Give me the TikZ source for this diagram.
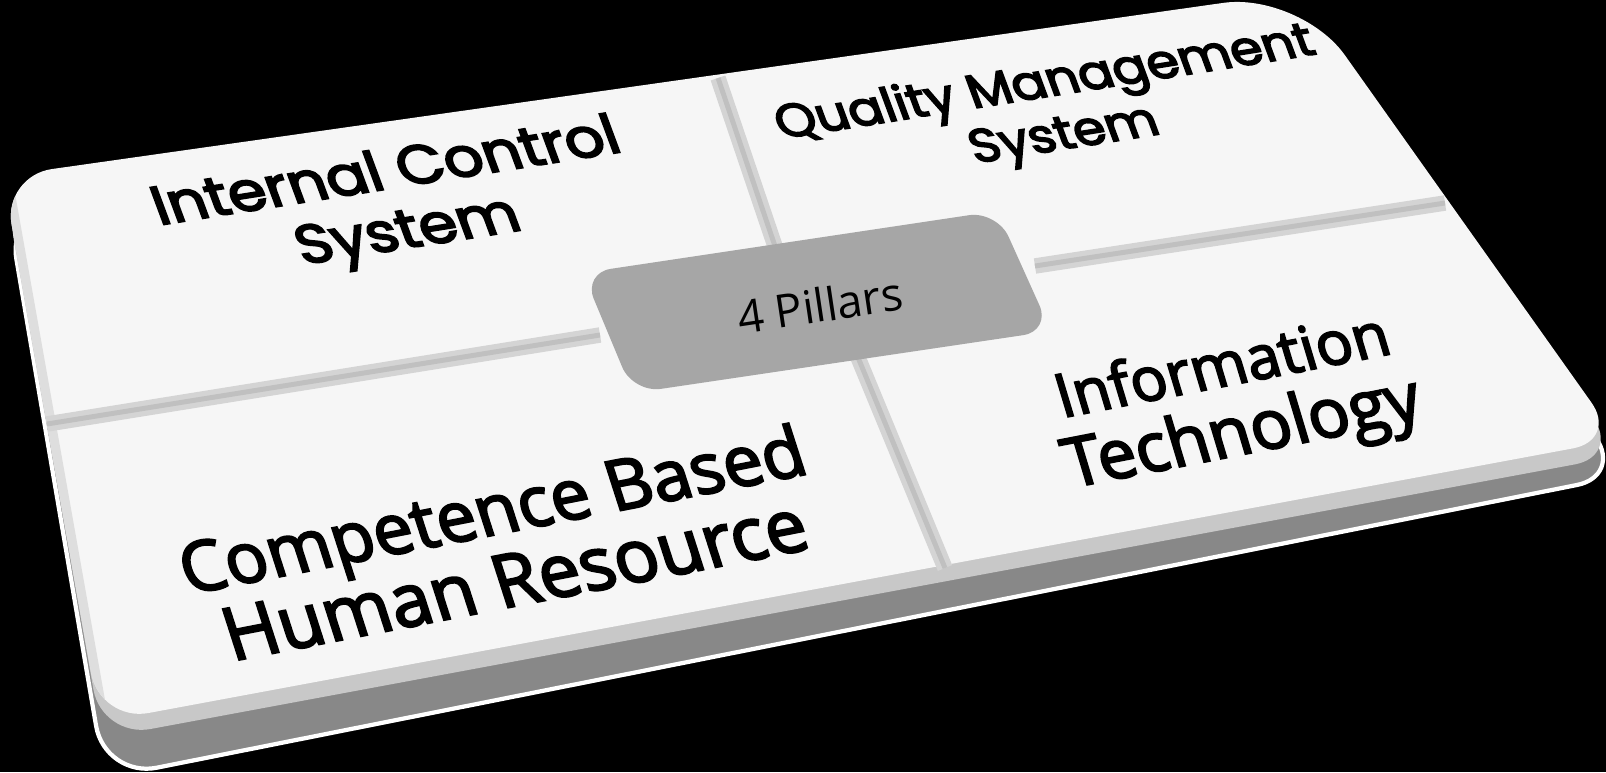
\documentclass[tikz,border=0pt]{standalone}
\usepackage{fontspec}
\setmainfont{Open Sans}
\newfontfamily\geofont{Poppins}[FakeBold=3.5]
\newfontfamily\tilefont{Open Sans}[FakeBold=3]
\usetikzlibrary{calc}
\definecolor{facewhite}{RGB}{246,246,246}
\definecolor{sidegray}{RGB}{136,136,136}
\definecolor{bevelgray}{RGB}{200,200,200}
\definecolor{edgegray}{RGB}{222,222,222}
\definecolor{groovegray}{RGB}{212,212,212}
\definecolor{groovedark}{RGB}{192,192,192}
\definecolor{hubgray}{RGB}{166,166,166}

% four corners #1-#4 with corner radii #5-#8
\newcommand\roundquad[8]{%
  ($(#1)!#5!(#2)$) -- ($(#2)!#6!(#1)$)
  .. controls ($(#2)!0.45*#6!(#1)$) and ($(#2)!0.45*#6!(#3)$) .. ($(#2)!#6!(#3)$)
  -- ($(#3)!#7!(#2)$)
  .. controls ($(#3)!0.45*#7!(#2)$) and ($(#3)!0.45*#7!(#4)$) .. ($(#3)!#7!(#4)$)
  -- ($(#4)!#8!(#3)$)
  .. controls ($(#4)!0.45*#8!(#3)$) and ($(#4)!0.45*#8!(#1)$) .. ($(#4)!#8!(#1)$)
  -- ($(#1)!#5!(#4)$)
  .. controls ($(#1)!0.45*#5!(#4)$) and ($(#1)!0.45*#5!(#2)$) .. ($(#1)!#5!(#2)$)
  -- cycle}

\begin{document}
\begin{tikzpicture}[x=0.01cm,y=-0.01cm,
  groove/.style={line width=4.4pt,groovegray},
  groove line/.style={line width=1.4pt,groovedark},
  pillar/.style={align=center,inner sep=0pt,text=black}]
\fill[black] (0,0) rectangle (1606,772);
\useasboundingbox (0,0) rectangle (1606,772);

\coordinate (btl) at (3,176);
\coordinate (btr) at (1300,-8);
\coordinate (bbr) at (1618,440);
\coordinate (bbl) at (100,722);

\coordinate (stl) at (8,210);
\coordinate (str) at (1310,20);
\coordinate (sbr) at (1622,476);
\coordinate (sbl) at (105,778);

\coordinate (vtl) at (5,190);
\coordinate (vtr) at (1302,6);
\coordinate (vbr) at (1620,456);
\coordinate (vbl) at (102,738);

% side of the board
\filldraw[fill=sidegray,draw=white,line width=1.2pt] \roundquad{stl}{str}{sbr}{sbl}{14pt}{22pt}{13pt}{15pt};
\fill[bevelgray] \roundquad{vtl}{vtr}{vbr}{vbl}{14pt}{22pt}{13pt}{14pt};

% top face
\fill[facewhite] \roundquad{btl}{btr}{bbr}{bbl}{14pt}{22pt}{13pt}{14pt};
\begin{scope}
\clip \roundquad{btl}{btr}{bbr}{bbl}{14pt}{22pt}{13pt}{14pt};
\draw[line width=5pt,edgegray] (btl) -- (bbl);
\end{scope}

% grooves between the tiles
\draw[groove] (718,78) -- (778,255);
\draw[groove] (857,355) -- (945,568);
\draw[groove] (47,424) -- (600,335);
\draw[groove] (1035,266) -- (1445,203);
\draw[groove line] (718,78) -- (778,255);
\draw[groove line] (857,355) -- (945,568);
\draw[groove line] (47,424) -- (600,335);
\draw[groove line] (1035,266) -- (1445,203);

% centre plate
\coordinate (htl) at (583,273);
\coordinate (htr) at (997,211);
\coordinate (hbr) at (1051,331);
\coordinate (hbl) at (633,393);
\fill[hubgray] \roundquad{htl}{htr}{hbr}{hbl}{8pt}{8pt}{8pt}{8pt};

\node[pillar,font=\fontsize{13}{15}\selectfont,rotate=8.5] (hub) at (820,305) {4 Pillars};
\node[pillar,font=\geofont\fontsize{15.7}{17.5}\selectfont,rotate=9,xslant=-0.2,xscale=1.1] (ics) at (398,205) {Internal Control\\System};
\node[pillar,font=\geofont\fontsize{13.5}{15.5}\selectfont,rotate=9,xslant=-0.2,xscale=1.08] (qms) at (1055,111) {Quality Management\\System};
\node[pillar,font=\tilefont\fontsize{20}{21}\selectfont,rotate=11,xslant=-0.12] (cbhr) at (503,544) {Competence Based\\{\fontsize{21}{21}\selectfont Human Resource}};
\node[pillar,font=\tilefont\fontsize{17.3}{20}\selectfont,rotate=11,xslant=-0.1] (it) at (1234,405) {Information\\{\fontsize{19.5}{20}\selectfont Technology}};
\end{tikzpicture}
\end{document}
